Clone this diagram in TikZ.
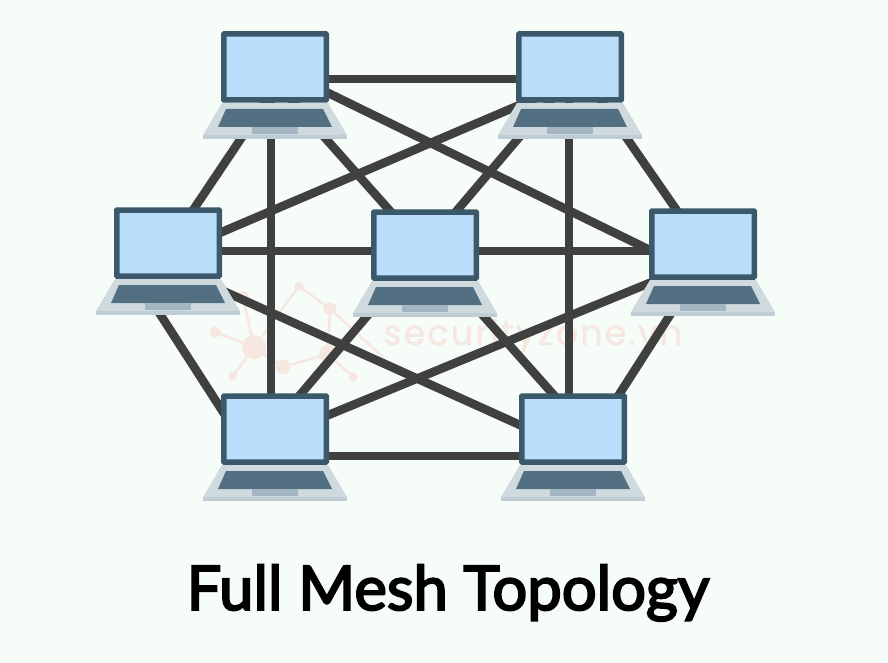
\documentclass[tikz,border=0pt]{standalone}
\usepackage{fontspec}
\setmainfont{Lato}
\newfontfamily\markfont{Poppins}
\pgfdeclarelayer{backdrop}
\pgfdeclarelayer{links}
\pgfsetlayers{backdrop,links,main}
\definecolor{pagebg}{HTML}{F6FCF8}
\definecolor{screenblue}{HTML}{B9DDFA}
\definecolor{frameslate}{HTML}{3C586B}
\definecolor{basegrey}{HTML}{CFDADF}
\definecolor{baseedge}{HTML}{C0CDD5}
\definecolor{keyslate}{HTML}{527082}
\definecolor{padgrey}{HTML}{A3B6C2}
\definecolor{linkgrey}{HTML}{404040}
\definecolor{markpink}{HTML}{F6E7E1}
\tikzset{
  x=1pt,y=-1pt,
  screennode/.style={draw=frameslate,line width=5.5pt,fill=screenblue,rounded corners=0.6pt,
    minimum width=102.5pt,minimum height=66pt,inner sep=0pt,outer sep=0pt},
  link/.style={draw=linkgrey,line width=8.6pt},
  markdot/.style={fill=markpink,draw=none},
  markline/.style={draw=markpink,line width=2.5pt},
  pics/laptopbase/.style={code={
    \fill[basegrey] (-53,36) -- (53,36) -- (72,68) -- (-72,68) -- cycle;
    \fill[baseedge] (-72,68) -- (72,68) -- (72,72) -- (-72,72) -- cycle;
    \fill[keyslate] (-49,42) -- (48,42) -- (57,60) -- (-57,60) -- cycle;
    \fill[padgrey] (-23,60) rectangle (23,67);
  }},
}
\begin{document}
\begin{tikzpicture}
\useasboundingbox (0,0) rectangle (888,663);
\begin{pgfonlayer}{backdrop}
  \fill[pagebg] (0,0) rectangle (888,663);
  % faint mark: network glyph and site name
  \draw[markline] (215,332) -- (254,347) -- (233,376);
  \draw[markline] (254,347) -- (283,367) -- (328,354) -- (353,377);
  \draw[markline] (254,347) -- (299,286) -- (330,309) -- (328,354);
  \draw[markline] (330,309) -- (383,357);
  \draw[markline] (243,297) -- (254,347);
  \fill[markdot] (254,347) circle (12);
  \fill[markdot] (215,332) circle (5.5);
  \fill[markdot] (233,376) circle (4.5);
  \fill[markdot] (283,367) circle (7.5);
  \fill[markdot] (328,354) circle (9);
  \fill[markdot] (353,377) circle (4.5);
  \fill[markdot] (330,309) circle (6.5);
  \fill[markdot] (299,286) circle (4.5);
  \fill[markdot] (243,297) circle (6);
  \node[anchor=base west,inner sep=0pt,text=markpink,font=\markfont\fontsize{35}{35}\selectfont] (sitename) at (383,345)
    {\addfontfeature{LetterSpace=6,FakeBold=1}securityzone.vn};
\end{pgfonlayer}

% laptops: the lid is a named node, the keyboard deck sits under it
\pic at (275,67) {laptopbase};
\node[screennode] (a) at (275,67) {};
\pic at (570,67) {laptopbase};
\node[screennode] (b) at (570,67) {};
\pic at (168,243) {laptopbase};
\node[screennode] (c) at (168,243) {};
\pic at (425,245) {laptopbase};
\node[screennode] (d) at (425,245) {};
\pic at (703,244) {laptopbase};
\node[screennode] (e) at (703,244) {};
\pic at (275,429) {laptopbase};
\node[screennode] (f) at (275,429) {};
\pic at (573,429) {laptopbase};
\node[screennode] (g) at (573,429) {};

\begin{pgfonlayer}{links}
  \draw[link] ([shift={(0,12)}]a.center) -- ([shift={(0,12)}]b.center);
  \draw[link] ([shift={(14,0)}]a.center) -- ([shift={(3,0)}]c.center);
  \draw[link] ([shift={(0,0)}]a.center) -- ([shift={(0,32)}]e.center);
  \draw[link] ([shift={(-4,0)}]a.center) -- ([shift={(-4,0)}]f.center);
  \draw[link] ([shift={(-13,0)}]a.center) -- ([shift={(11,0)}]g.center);
  \draw[link] ([shift={(0,16.5)}]b.center) -- ([shift={(0,12)}]c.center);
  \draw[link] ([shift={(7.5,0)}]b.center) -- ([shift={(-3,0)}]e.center);
  \draw[link] ([shift={(9,0)}]b.center) -- ([shift={(-4,0)}]f.center);
  \draw[link] ([shift={(-1,0)}]b.center) -- ([shift={(-4,0)}]g.center);
  \draw[link] ([shift={(0,8)}]c.center) -- ([shift={(0,7)}]e.center);
  \draw[link] ([shift={(-36.4,27)}]c.center) -- ([shift={(-41,0)}]f.center);
  \draw[link] ([shift={(0,23)}]c.center) -- ([shift={(0,20)}]g.center);
  \draw[link] ([shift={(0,17)}]e.center) -- ([shift={(0,8)}]f.center);
  \draw[link] ([shift={(12.5,0)}]e.center) -- ([shift={(24,0)}]g.center);
  \draw[link] ([shift={(0,27)}]f.center) -- ([shift={(0,27)}]g.center);
\end{pgfonlayer}

\node[anchor=base,inner sep=0pt,text=black,font=\fontsize{61.5}{62}\selectfont] (title) at (448,610)
  {\addfontfeature{FakeBold=3.2}Full Mesh Topology};
\end{tikzpicture}
\end{document}
